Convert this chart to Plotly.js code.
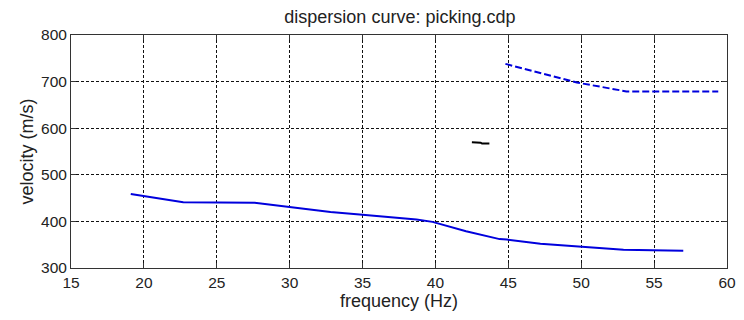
<!DOCTYPE html>
<html>
<head>
<meta charset="utf-8">
<script src="https://cdn.plot.ly/plotly-3.0.1.min.js"></script>
<style>
  html, body { margin: 0; padding: 0; background: #ffffff; }
  #chart { width: 744px; height: 320px; }
</style>
</head>
<body>
<div id="chart"></div>
<script>
// Fundamental mode (solid line)
const freqFund = [19.1, 22.7, 27.6, 30.0, 32.8, 34.8, 37.6, 38.7, 39.8, 42.1, 44.4, 44.9, 47.2, 49.7, 50.6, 52.9, 54.9, 57.0];
const velFund  = [459, 441, 440, 431, 420, 415, 407, 404, 399, 379, 362, 361, 352, 346, 343, 339, 338, 337];

// Higher mode (dashed line)
const freqHigh = [44.8, 49.7, 53.1, 59.4];
const velHigh  = [738, 698, 679, 679];

// Short picked segment
const freqPick = [42.5, 43.1, 43.2, 43.7];
const velPick  = [570, 569, 567, 567];

const xTicks = [15, 20, 25, 30, 35, 40, 45, 50, 55, 60];
const yTicks = [300, 400, 500, 600, 700, 800];

const family = 'Liberation Sans, Arial, sans-serif';
const tickFont  = { family: family, size: 15.5, color: '#222222' };
const labelFont = { family: family, size: 18, color: '#222222' };

const traces = [
  { x: freqFund, y: velFund, type: 'scatter', mode: 'lines',
    line: { color: '#0000dd', width: 2 }, hoverinfo: 'skip' },
  { x: freqHigh, y: velHigh, type: 'scatter', mode: 'lines',
    line: { color: '#0000dd', width: 2, dash: '7px,3px' }, hoverinfo: 'skip' },
  { x: freqPick, y: velPick, type: 'scatter', mode: 'lines',
    line: { color: '#000000', width: 2 }, hoverinfo: 'skip' }
];

const axisCommon = {
  showline: true, linecolor: '#333333', linewidth: 1, mirror: 'ticks',
  ticks: 'inside', ticklen: 5, tickcolor: '#333333',
  showgrid: true, gridcolor: '#111111', gridwidth: 1, griddash: '3px,2px',
  zeroline: false, tickfont: tickFont
};

const layout = {
  width: 744, height: 320,
  margin: { l: 71, r: 17, t: 35, b: 52 },
  paper_bgcolor: '#ffffff', plot_bgcolor: '#ffffff',
  showlegend: false,
  font: tickFont,
  title: { text: 'dispersion curve: picking.cdp', font: labelFont, x: 0.5375, xanchor: 'center', y: 0.947, yanchor: 'middle' },
  xaxis: Object.assign({}, axisCommon, {
    range: [15, 60], tickvals: xTicks, ticktext: xTicks.map(String),
    title: { text: 'frequency (Hz)', font: labelFont, standoff: 2 }
  }),
  yaxis: Object.assign({}, axisCommon, {
    range: [300, 800], tickvals: yTicks, ticktext: yTicks.map(String),
    title: { text: 'velocity (m/s)', font: labelFont, standoff: 2 }
  })
};

Plotly.newPlot('chart', traces, layout, { staticPlot: true, displayModeBar: false });
</script>
</body>
</html>
